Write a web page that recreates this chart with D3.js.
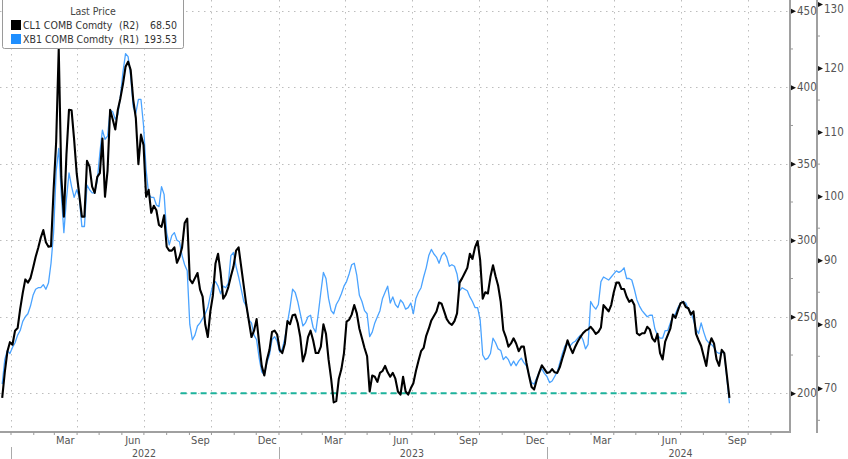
<!DOCTYPE html>
<html><head><meta charset="utf-8">
<script src="https://cdn.jsdelivr.net/npm/d3@7"></script>
<style>
body{margin:0;background:#fff}
svg{display:block}
text{font-family:"Liberation Sans Narrow","DejaVu Sans Condensed","Arial Narrow","Liberation Sans",sans-serif}
</style>
</head><body>
<svg id="c" width="848" height="459"></svg>
<script>
// ---- data: twice-weekly readings (every 3.5 days) starting 2021-12-20 ----
const startDate = "2021-12-20";
const stepHours = 84;
const cl1 = [
68.5,72.5, 75.7,77.2, 76.8,79, 79.4,82.4, 84.9,87,
86.5,87.2, 88.8,90.5, 91.9,93.5, 94.7,92.8, 92.1,92.2,
101,108.5, 123,103, 96.8,106.5, 113.5,113.4, 108.8,103.5,
100.2,96.8, 96.8,105.5, 104.6,101.5, 100.5,103, 103.6,109,
99.9,104, 113.5,112, 110.4,113.5, 115.3,117.5, 120.2,121,
119.7,115, 112.2,105, 109.6,108, 99.9,101, 97.4,98.5,
97.8,95.5, 95.2,97, 92.1,91.5, 91.5,92, 89.6,90.5,
92,95.8, 96.5,87, 86.4,87.2, 88,85.4, 84.3,80,
78,82, 84.5,89.5, 91,88, 84,84.6, 85.8,87.5,
89,91.5, 92,89, 86,83, 80.5,78, 79,80.8,
77,73.5, 72,74.4, 76,78.8, 79,78.4, 76,75.5,
77,80.5, 80,81.4, 81.5,80.2, 78,74.2, 75.5,78,
79,77.5, 75.5,75.5, 76.5,80, 78.5,74.5, 71.5,67.8,
68,71.5, 73,75.5, 80.4,80.7, 81.5,83, 81.7,79.3,
77.8,76.3, 75,69.5, 72,71.8, 71,72.4, 72.7,73.5,
72.5,71.8, 72.4,71.5, 69.5,69, 71.8,69.5, 69,70,
70.8,72.7, 74.3,75.8, 76.3,78.2, 79.3,80.6, 81.3,82,
83.4,83.2, 82,80.8, 80.2,79.9, 80.5,81.7, 86.5,87.2,
88,88.8, 91,90.2, 92,93, 90,84, 85,84.8,
87.4,89.2, 87.5,86, 83.5,79.1, 78,76.5, 77,77.8,
77,75.8, 76.5,76.5, 74,72, 70.2,69.8, 71.3,72.5,
73.6,73, 72.4,72.5, 73,72.5, 72.4,73.3, 74.7,76,
77.5,76.4, 75.5,76.5, 77.3,78, 78.6,79, 79.2,79.6,
79.1,78.5, 78.8,79.5, 83,82.5, 82,83, 85,86.5,
86.5,85.5, 85.5,84.3, 83.5,83.8, 83,78.6, 78.3,78.6,
78.6,79.6, 79.2,77.8, 77.3,78.5, 75.5,74.5, 77.3,78.3,
79.3,81.5, 81,82.2, 83.3,83.5, 82.7,82.5, 81.5,82,
78.5,77.5, 76.6,75, 73.5,76.5, 77.8,77, 74.5,73.5,
76,75.5, 72,68.5];
const xb1 = [
206,222, 228,226, 230,233, 238,241, 247,250,
252,257, 264,268, 269,269, 271,268, 272,285,
305,345, 360,330, 305,327, 344,335, 328,333,
328,309, 309,336, 333,331, 331,339, 357,372,
366,368, 385,384, 379,382, 394,410, 422,420,
407,387, 383,392, 392,375, 346,330, 328,328,
323,322, 335,330, 305,297, 303,305, 300,299,
290,284, 280,245, 235,238, 244,246, 249,252,
256,264, 271,273, 270,265, 270,269, 272,290,
292,283, 276,268, 260,257, 248,246, 238,235,
223,214, 212,220, 225,235, 237,234, 227,229,
236,246, 256,268, 266,260, 252,244, 246,250,
251,243, 240,252, 266,279, 275,262, 254,252,
258,261, 265,270, 273,278, 284,285, 277,264,
260,254, 252,237, 240,246, 250,254, 262,266,
270,259, 263,258, 256,261, 259,255, 256,259,
252,262, 266,269, 276,282, 290,294, 291,289,
285,290, 292,289, 283,284, 283,278, 267,269,
268,267, 263,260, 256,256, 248,225, 222,223,
226,236, 233,229, 228,222, 224,222, 218,221,
218,221, 223,220, 218,212, 207,206, 210,214,
216,213, 211,207, 208,211, 214,220, 226,231,
232,231, 233,234, 236,238, 235,229, 232,260,
257,255, 258,273, 276,275, 274,276, 278,280,
279,280, 282,275, 275,274, 268,261, 257,254,
252,250, 251,251, 242,238, 236,236, 241,241,
246,250, 252,256, 259,260, 259,255, 253,248,
242,239, 246,240, 235,233, 232,230, 227,226,
227,226, 210,193.53];
const leftTicks = [200,250,300,350,400,450];
const leftMinor = [225,275,325,375,425];
const rightTicks = [70,80,90,100,110,120,130];
const rightMinor = [65,75,85,95,105,115,125];
const monthLabels = ["Mar","Jun","Sep","Dec"];
const yearLabels = ["2022","2023","2024"];
const refLevel = 200, refStart = "2022-08-20", refEnd = "2024-07-14";
const legendTitle = "Last Price";
const legendRows = [
  {name:"CL1 COMB Comdty", axis:"(R2)", last:"68.50", color:"#000"},
  {name:"XB1 COMB Comdty", axis:"(R1)", last:"193.53", color:"#1f8fff"}
];

// ---- build ----
const parse = d3.timeParse("%Y-%m-%d");
const d0 = parse(startDate);
const dates = cl1.map((_, i) => d3.timeHour.offset(d0, stepHours * i));

const W = 790, H = 432;
const x = d3.scaleTime().domain([new Date(2021,11,17), new Date(2024,10,27)]).range([0, W]);
const yL = d3.scaleLinear().domain([200,450]).range([393.3,10.7]);
const yR = d3.scaleLinear().domain([70,130]).range([388.3,4]);

const svg = d3.select("#c");
svg.append("defs").append("clipPath").attr("id","clip")
  .append("rect").attr("x",0).attr("y",0).attr("width",W).attr("height",H);

// grid
const grid = svg.append("g").attr("stroke","#bdbdbd").attr("stroke-width",1).attr("stroke-dasharray","1.5,4.5");
grid.selectAll("line.h").data(leftTicks).join("line")
  .attr("x1",0).attr("x2",W).attr("y1",d=>Math.round(yL(d))+0.5).attr("y2",d=>Math.round(yL(d))+0.5);
const quarters = d3.timeMonth.every(3).range(new Date(2022,0,1), new Date(2024,11,1));
grid.selectAll("line.v").data(quarters).join("line")
  .attr("x1",d=>Math.round(x(d))+0.5).attr("x2",d=>Math.round(x(d))+0.5).attr("y1",0).attr("y2",H);

// reference dashed line
svg.append("line")
  .attr("x1",x(parse(refStart))).attr("x2",x(parse(refEnd)))
  .attr("y1",yL(refLevel)).attr("y2",yL(refLevel))
  .attr("stroke","#1db39c").attr("stroke-width",2).attr("stroke-dasharray","6,4");

// series
const plot = svg.append("g").attr("clip-path","url(#clip)");
plot.append("path").datum(xb1.map((v,i)=>({d:dates[i],v})))
  .attr("fill","none").attr("stroke","#4aa3ff").attr("stroke-width",1.3).attr("stroke-linejoin","round")
  .attr("d", d3.line().x(p=>x(p.d)).y(p=>yL(p.v)));
plot.append("path").datum(cl1.map((v,i)=>({d:dates[i],v})))
  .attr("fill","none").attr("stroke","#000").attr("stroke-width",2.1).attr("stroke-linejoin","round")
  .attr("d", d3.line().x(p=>x(p.d)).y(p=>yR(p.v)));

// axes lines
const axCol = "#a0a0a0";
svg.append("line").attr("x1",0).attr("x2",W+1).attr("y1",H).attr("y2",H).attr("stroke",axCol).attr("stroke-width",2);
svg.append("line").attr("x1",W).attr("x2",W).attr("y1",0).attr("y2",H+1).attr("stroke",axCol).attr("stroke-width",2);
svg.append("line").attr("x1",817).attr("x2",817).attr("y1",0).attr("y2",H+1).attr("stroke",axCol).attr("stroke-width",2);

// right axis R1
const gL = svg.append("g").attr("transform",`translate(${W},0)`)
  .call(d3.axisRight(yL).tickValues(leftTicks).tickSize(0).tickPadding(7));
gL.select(".domain").remove();
gL.selectAll("text").attr("fill","#555").attr("font-size",11.5);
gL.selectAll(".tick").append("path").attr("d","M1,-2.5L6,0L1,2.5Z").attr("fill","#111");
svg.append("g").selectAll("line").data(leftMinor).join("line")
  .attr("x1",W).attr("x2",W+3).attr("y1",d=>yL(d)).attr("y2",d=>yL(d)).attr("stroke","#999");

// right axis R2
const gR = svg.append("g").attr("transform","translate(817,0)")
  .call(d3.axisRight(yR).tickValues(rightTicks).tickSize(0).tickPadding(7));
gR.select(".domain").remove();
gR.selectAll("text").attr("fill","#555").attr("font-size",11.5)
  .attr("dy", d => d === 130 ? "0.75em" : "0.32em");
gR.selectAll(".tick").append("path").attr("d","M1,-2.5L6,0L1,2.5Z").attr("fill","#111");
svg.append("g").selectAll("line").data(rightMinor).join("line")
  .attr("x1",817).attr("x2",820).attr("y1",d=>yR(d)).attr("y2",d=>yR(d)).attr("stroke","#999");

// bottom axis
const months = d3.timeMonth.range(new Date(2022,0,1), new Date(2024,10,27));
svg.append("g").selectAll("line").data(months).join("line")
  .attr("x1",d=>x(d)).attr("x2",d=>x(d)).attr("y1",H).attr("y2",H+3).attr("stroke","#999");
const labelMonths = months.filter(d => monthLabels.includes(d3.timeFormat("%b")(d)));
svg.append("g").selectAll("text").data(labelMonths).join("text")
  .attr("x",d=>x(d3.timeDay.offset(d,15))).attr("y",443.5)
  .attr("text-anchor","middle").attr("font-size",11).attr("fill","#555")
  .text(d=>d3.timeFormat("%b")(d));
const years = yearLabels.map(y => new Date(+y,0,1));
svg.append("g").selectAll("line").data(years).join("line")
  .attr("x1",d=>Math.round(x(d))+0.5).attr("x2",d=>Math.round(x(d))+0.5).attr("y1",447).attr("y2",459).attr("stroke","#aaa");
svg.append("g").selectAll("text").data(years).join("text")
  .attr("x",d=>x(new Date(d.getFullYear(),6,1))).attr("y",456.5)
  .attr("text-anchor","middle").attr("font-size",10.5).attr("fill","#555")
  .text((d,i)=>yearLabels[i]);

// legend
const lg = svg.append("g");
lg.append("rect").attr("x",2.5).attr("y",-2.5).attr("width",181).attr("height",51).attr("rx",2)
  .attr("fill","#fff").attr("stroke","#9a9a9a").attr("stroke-width",1);
lg.append("text").attr("x",93).attr("y",15).attr("text-anchor","middle").attr("font-size",10.5).attr("fill","#444").text(legendTitle);
legendRows.forEach((r,i)=>{
  const yb = 29 + i*14;
  lg.append("rect").attr("x",11).attr("y",yb-9).attr("width",10).attr("height",10).attr("fill",r.color);
  lg.append("text").attr("x",23).attr("y",yb).attr("font-size",10.5).attr("fill","#333").text(r.name);
  lg.append("text").attr("x",119).attr("y",yb).attr("font-size",10.5).attr("fill","#333").text(r.axis);
  lg.append("text").attr("x",177).attr("y",yb).attr("text-anchor","end").attr("font-size",10.5).attr("fill","#333").text(r.last);
});
</script>
</body></html>
